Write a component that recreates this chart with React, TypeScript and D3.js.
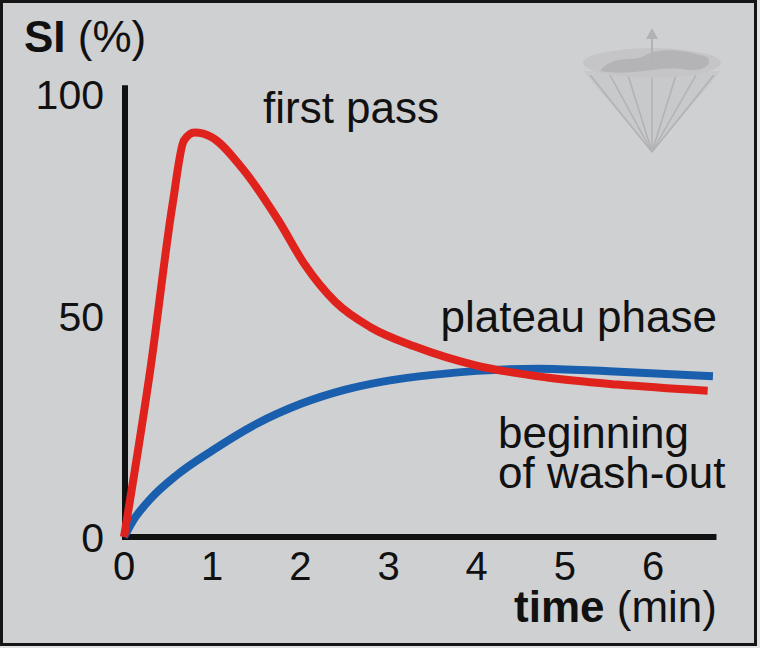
import React from "react";
import * as d3 from "d3";

// values
const firstPassTime = [0, 0.3, 0.55, 0.68, 0.8, 1.0, 1.35, 1.75, 2.05, 2.4, 2.8, 3.3, 4.0, 4.8, 5.6, 6.62];
const firstPassSI = [0, 38, 75, 89.5, 91.3, 90.2, 83, 71.5, 61.5, 53, 47.3, 43, 38.7, 36, 34.4, 33];

const plateauTime = [0, 0.1, 0.3, 0.6, 1.0, 1.5, 2.0, 2.5, 3.0, 3.5, 4.0, 4.7, 5.5, 6.68];
const plateauSI = [0, 3.6, 8.6, 14, 19.5, 25.5, 30, 33.2, 35.3, 36.6, 37.5, 38, 37.4, 36.3];

const xTicks = [0, 1, 2, 3, 4, 5, 6];
const yTicks = [0, 50, 100];

const W = 760;
const H = 648;
const FONT = "'Liberation Sans', Arial, Helvetica, sans-serif";

const x = d3.scaleLinear().domain([0, 6]).range([124, 653]);
const y = d3.scaleLinear().domain([0, 100]).range([537, 94]);

const line = d3
  .line<[number, number]>()
  .x((d) => x(d[0]))
  .y((d) => y(d[1]))
  .curve(d3.curveMonotoneX);

const zip = (a: number[], b: number[]): [number, number][] => a.map((t, i) => [t, b[i]]);

const Logo: React.FC = () => {
  // faded cone-with-map emblem in the top right corner
  const cx = 652;
  const top = 63;
  const apex = 152;
  const rx = 69;
  const ry = 15;
  const spokes = [-62, -42, -24, 0, 24, 44, 62];
  return (
    <g opacity={0.55}>
      <path d={`M${cx - rx},${top + 8} L${cx},${apex} L${cx + rx},${top + 8} Z`} fill="#c4c4c6" />
      {spokes.map((dx, i) => (
        <line key={i} x1={cx} y1={apex} x2={cx + dx} y2={top + 12} stroke="#9a9a9c" strokeWidth={1.5} />
      ))}
      <ellipse cx={cx} cy={top} rx={rx} ry={ry} fill="#bdbdbf" />
      <path
        d={`M${cx - 52},${top + 8} C${cx - 40},${top - 8} ${cx - 20},${top - 2} ${cx - 10},${top - 6}
           C${cx + 5},${top - 16} ${cx + 30},${top - 14} ${cx + 55},${top - 6}
           C${cx + 62},${top + 2} ${cx + 50},${top + 10} ${cx + 30},${top + 6}
           C${cx + 10},${top + 2} ${cx - 20},${top + 14} ${cx - 52},${top + 8} Z`}
        fill="#9e9ea0"
      />
      <line x1={cx} y1={top} x2={cx} y2={top - 28} stroke="#9a9a9c" strokeWidth={2} />
      <path d={`M${cx - 6},${top - 24} L${cx},${top - 35} L${cx + 6},${top - 24} Z`} fill="#9a9a9c" />
    </g>
  );
};

const App: React.FC = () => {
  const red = line(zip(firstPassTime, firstPassSI)) || "";
  const blue = line(zip(plateauTime, plateauSI)) || "";
  const x0 = x(0) + 1;
  const xEnd = x(6.72);
  const yTop = y(102);

  return (
    <svg width={W} height={H} style={{ position: "absolute", left: 0, top: 0 }} fontFamily={FONT}>
      <rect x={0} y={0} width={W} height={H} fill="#e2e2e4" />
      <rect x={1.5} y={1.5} width={754} height={643} fill="#cfd0d2" stroke="#151515" strokeWidth={3} />

      <Logo />

      {/* axes */}
      <line x1={x0} y1={yTop} x2={x0} y2={y(0) + 3} stroke="#111" strokeWidth={6} />
      <line x1={x0 - 3} y1={y(0)} x2={xEnd} y2={y(0)} stroke="#111" strokeWidth={6} />

      {xTicks.map((t) => (
        <text key={t} x={x(t)} y={580} fontSize={40} textAnchor="middle" fill="#111">
          {t}
        </text>
      ))}
      {yTicks.map((v) => (
        <text key={v} x={104} y={y(v) + 15} fontSize={41} textAnchor="end" fill="#111">
          {v}
        </text>
      ))}

      <text x={24} y={52} fontSize={44} fill="#111">
        <tspan fontWeight="bold">SI</tspan>
        <tspan> (%)</tspan>
      </text>
      <text x={717} y={622} fontSize={44} fill="#111" textAnchor="end">
        <tspan fontWeight="bold">time</tspan>
        <tspan> (min)</tspan>
      </text>

      {/* curves */}
      <path d={blue} fill="none" stroke="#1a5fae" strokeWidth={8} strokeLinecap="butt" />
      <path d={red} fill="none" stroke="#e0221d" strokeWidth={8} strokeLinecap="butt" />

      {/* annotations */}
      <text x={263} y={123} fontSize={44} fill="#111">first pass</text>
      <text x={717} y={332} fontSize={44} fill="#111" textAnchor="end">plateau phase</text>
      <text x={498} y={448} fontSize={44} fill="#111">beginning</text>
      <text x={498} y={488} fontSize={44} fill="#111">of wash-out</text>
    </svg>
  );
};

export default App;
